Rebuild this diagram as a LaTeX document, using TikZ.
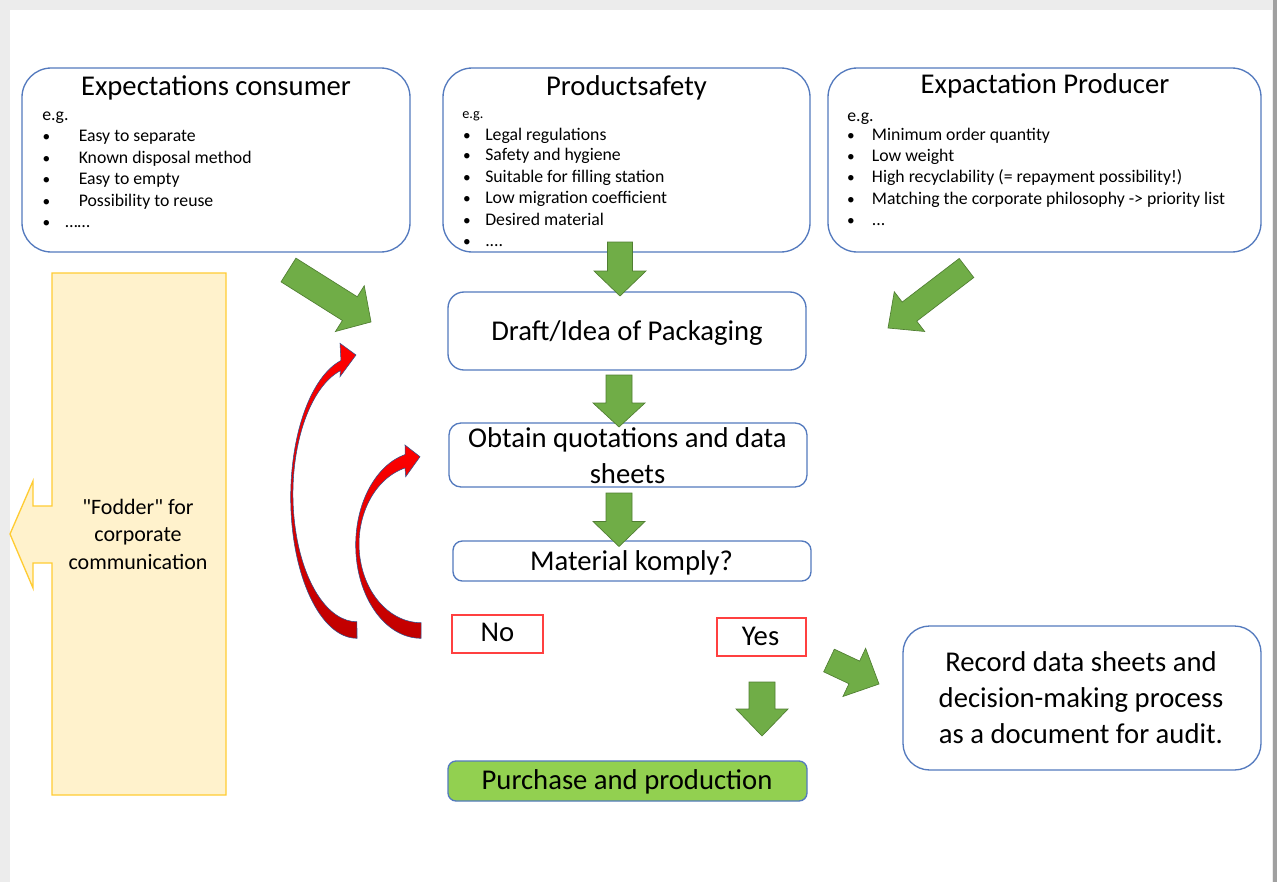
\documentclass[tikz,border=0pt]{standalone}
\usepackage{fontspec}
\setmainfont{Carlito}[Ligatures=TeXOff]
\usetikzlibrary{fit}
\definecolor{bxblue}{RGB}{84,122,190}
\definecolor{agreen}{RGB}{112,173,71}
\definecolor{agreenb}{RGB}{80,126,50}
\definecolor{ylfill}{RGB}{255,242,204}
\definecolor{ylline}{RGB}{255,204,51}
\definecolor{pgreen}{RGB}{146,208,80}
\definecolor{redbox}{RGB}{255,64,64}
\definecolor{dred}{RGB}{192,0,0}
\definecolor{rblue}{RGB}{47,82,143}
\definecolor{pagegrey}{RGB}{236,236,236}
\definecolor{edgegrey}{RGB}{160,160,160}
% block arrow: tail x, tail y, angle, length, shaft half width, head half width, head length
\newcommand\fatarrow[7]{%
  \path[garrow, shift={(#1,#2)}, rotate=#3] (0,-#5) -- ({#4-#7},-#5) -- ({#4-#7},-#6) -- (#4,0) -- ({#4-#7},#6) -- ({#4-#7},#5) -- (0,#5) -- cycle;}
\begin{document}
\begin{tikzpicture}[x=0.75pt,y=-0.75pt,
  topbox/.style={draw=bxblue, line width=1pt, rounded corners=22pt, inner sep=0pt, fill=white},
  flowbox/.style={draw=bxblue, line width=1pt, inner sep=0pt, fill=white},
  nobox/.style={draw=redbox, line width=1pt, inner sep=0pt, fill=white},
  garrow/.style={fill=agreen, draw=agreenb, line width=0.5pt},
  redarr/.style={top color=red, bottom color=dred, draw=rblue, line width=0.4pt},
  ttl/.style={font=\fontsize{21.5}{26}\selectfont, anchor=base, inner sep=0pt},
  big/.style={font=\fontsize{21.5}{27}\selectfont, inner sep=0pt, align=center},
  body/.style={font=\fontsize{13.3}{16}\selectfont, anchor=base west, inner sep=0pt},
  bul/.style={font=\fontsize{11.5}{14}\selectfont, anchor=base, inner sep=0pt},
  yel/.style={font=\fontsize{16.5}{20.6}\selectfont, inner sep=0pt, align=center},
]
\useasboundingbox (0,0) rectangle (1277,882);
\fill[pagegrey] (0,0) rectangle (1277,882);
\fill[white] (10,10) rectangle (1272,882);
\fill[edgegrey] (1273,0) rectangle (1277,882);

% top boxes
\node[topbox, fit={(22,68)(410,252)}] (cons) {};
\node[topbox, fit={(443,68)(810,252)}] (safe) {};
\node[topbox, fit={(828,68)(1261,252)}] (prod) {};
\node[ttl] (consT) at (216,95) {Expectations consumer};
\node[ttl] (safeT) at (626.5,95) {Productsafety};
\node[ttl] (prodT) at (1045,93.3) {Expactation Producer};

\node[body] (consEg) at (42,120.7) {e.g.};
\foreach \t/\y [count=\i] in {Easy to separate/141.7, Known disposal method/163.3, Easy to empty/184.3, Possibility to reuse/206}{
  \node[bul] (consB\i) at (46.5,\y) {•};
  \node[body] (consI\i) at (78.5,\y) {\t};
}
\node[bul] (consB5) at (46.5,227.7) {•};
\node[body] (consI5) at (65,227.7) {……};

\node[body, font=\fontsize{10.7}{13}\selectfont] (safeEg) at (462,118.3) {e.g.};
\foreach \t/\y [count=\i] in {Legal regulations/140, Safety and hygiene/160.7, Suitable for filling station/182.3, Low migration coefficient/203.3, Desired material/225}{
  \node[bul] (safeB\i) at (467,\y) {•};
  \node[body] (safeI\i) at (485,\y) {\t};
}
\node[bul] (safeB6) at (467,246) {•};
\node[body] (safeI6) at (485,246) {....};

\node[body] (prodEg) at (847,121) {e.g.};
\foreach \t/\y [count=\i] in {Minimum order quantity/140, Low weight/161.7, High recyclability (= repayment possibility!)/182.7, Matching the corporate philosophy -> priority list/204}{
  \node[bul] (prodB\i) at (851,\y) {•};
  \node[body] (prodI\i) at (871.7,\y) {\t};
}
\node[bul] (prodB5) at (851,225.7) {•};
\node[body] (prodI5) at (871.7,225.7) {...};

% yellow arrow box
\path[draw=ylline, fill=ylfill, line width=1pt] (52,273) -- (226,273) -- (226,795) -- (52,795) -- (52,563) -- (33,563) -- (33,588) -- (10,534) -- (33,481) -- (33,506) -- (52,506) -- cycle;
\node[yel] (fod) at (138,534) {"Fodder" for\\corporate\\communication};

% flow boxes
\node[flowbox, rounded corners=12pt, fit={(448,292)(806,370)}] (draft) {};
\node[big, anchor=base] (draftT) at (627,340) {Draft/Idea of Packaging};
\node[flowbox, rounded corners=9pt, fit={(449,423)(807,487)}] (obt) {};
\node[big] (obtT) at (627.5,456) {Obtain quotations and data\\sheets};
\node[flowbox, rounded corners=7pt, fit={(453,541)(811,581)}] (mat) {};
\node[big, anchor=base] (matT) at (631.5,570) {Material komply?};
\node[nobox, fit={(452,615)(543,653)}] (no) {};
\node[big, anchor=base] (noT) at (497.5,641.7) {No};
\node[nobox, fit={(717,618)(806,656)}] (yes) {};
\node[big, anchor=base] (yesT) at (760.5,645.7) {Yes};
\node[flowbox, fill=pgreen, rounded corners=6pt, fit={(448,761)(807,801)}] (purch) {};
\node[big, anchor=base] (purchT) at (627,789.3) {Purchase and production};
\node[flowbox, rounded corners=20pt, fit={(903,626)(1261,770)}] (rec) {};
\node[big] (recT) at (1081,698) {Record data sheets and\\decision-making process\\as a document for audit.};

% green block arrows
\fatarrow{288.5}{270}{-32.2}{97.5}{14}{27}{25}
\fatarrow{620}{242}{-90}{54}{12.5}{26}{25}
\fatarrow{966.5}{268}{217.4}{98.8}{12}{25}{27}
\fatarrow{619}{375}{-90}{52}{13}{26}{24}
\fatarrow{619}{493}{-90}{53.5}{13}{26}{25}
\fatarrow{762}{682}{-90}{54}{13}{26}{27}
\fatarrow{829}{660.5}{-25.2}{55.25}{12.5}{26.6}{27.3}

% red curved arrows
\path[redarr] (357,638.3) arc[start angle=90, end angle=256, x radius=66.3, y radius=141] -- (340,343.3) -- (356,355) -- (340,376.7) -- (340.4,370.7) arc[start angle=255, end angle=90, x radius=64, y radius=127.7] -- cycle;
\path[redarr] (421,638.3) arc[start angle=90, end angle=256, x radius=65.3, y radius=93.3] -- (405,445) -- (420,456.7) -- (405.7,476.7) -- (405,468) arc[start angle=255, end angle=90, x radius=62, y radius=78.7] -- cycle;
\end{tikzpicture}
\end{document}
